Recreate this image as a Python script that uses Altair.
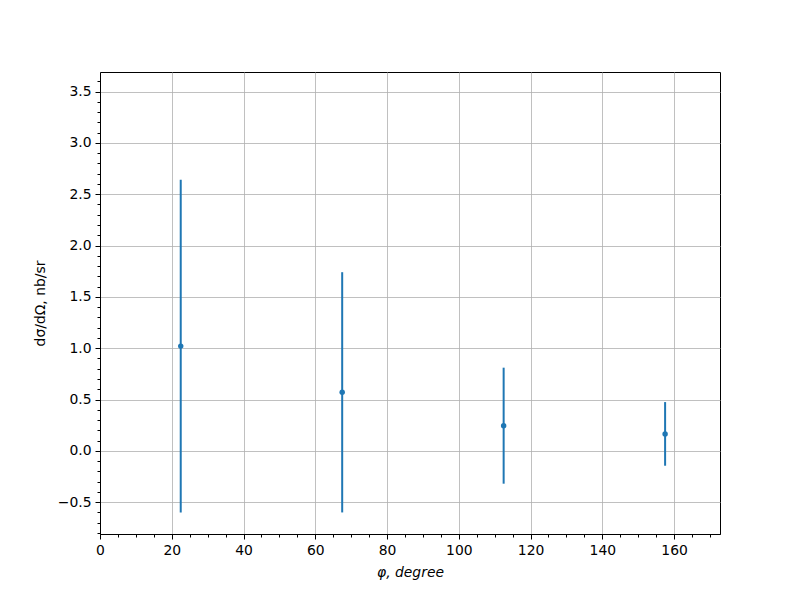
import altair as alt
import pandas as pd

phi = [22.5, 67.5, 112.5, 157.5]
xsec = [1.02, 0.57, 0.245, 0.165]
err = [1.62, 1.17, 0.565, 0.31]

x_ticks = list(range(0, 175, 5))
y_ticks = [round(-0.8 + 0.1 * i, 1) for i in range(45)]

df = pd.DataFrame({"phi": phi, "xsec": xsec, "err": err})
df["lo"] = df["xsec"] - df["err"]
df["hi"] = df["xsec"] + df["err"]

BLUE = "#1f77b4"
FONT = "DejaVu Sans"

x_major = "datum.value % 20 == 0"
y_major = "abs(datum.value*2 - round(datum.value*2)) < 0.000001"

x_axis = alt.Axis(
    values=x_ticks,
    tickCount=500,
    labelExpr=f"{x_major} ? format(datum.value, 'd') : ''",
    labelOverlap=False,
    labelFlush=False,
    tickSize={"condition": {"test": x_major, "value": 5}, "value": 3},
    gridOpacity={"condition": {"test": x_major, "value": 1}, "value": 0},
    grid=True,
    gridColor="#b0b0b0",
    gridWidth=0.8,
    domainColor="black",
    tickColor="black",
    labelColor="black",
    labelFont=FONT,
    labelFontSize=13.9,
    labelPadding=4,
    title="φ, degree",
    titleFont=FONT,
    titleFontSize=13.9,
    titleFontWeight="normal",
    titleFontStyle="italic",
    titleColor="black",
    titlePadding=9,
)

y_axis = alt.Axis(
    values=y_ticks,
    tickCount=500,
    labelExpr=f"{y_major} ? format(datum.value, '.1f') : ''",
    labelOverlap=False,
    labelFlush=False,
    tickSize={"condition": {"test": y_major, "value": 5}, "value": 3},
    gridOpacity={"condition": {"test": y_major, "value": 1}, "value": 0},
    grid=True,
    gridColor="#b0b0b0",
    gridWidth=0.8,
    domainColor="black",
    tickColor="black",
    labelColor="black",
    labelFont=FONT,
    labelFontSize=13.9,
    labelPadding=4,
    title="dσ/dΩ, nb/sr",
    titleFont=FONT,
    titleFontSize=13.9,
    titleFontWeight="normal",
    titleColor="black",
    titlePadding=10,
)

xs = alt.Scale(domain=[0, 172.8], nice=False, zero=False)
ys = alt.Scale(domain=[-0.81, 3.69], nice=False, zero=False)

bars = alt.Chart(df).mark_rule(color=BLUE, strokeWidth=2).encode(
    x=alt.X("phi:Q", scale=xs, axis=x_axis),
    y=alt.Y("lo:Q", scale=ys, axis=y_axis),
    y2="hi:Q",
)

pts = alt.Chart(df).mark_circle(color=BLUE, size=30, opacity=1).encode(
    x=alt.X("phi:Q", scale=xs),
    y=alt.Y("xsec:Q", scale=ys),
)

chart = (
    alt.layer(bars, pts)
    .properties(
        width=620,
        height=462,
        autosize=alt.AutoSizeParams(type="none"),
        padding={"left": 92, "top": 64, "right": 40, "bottom": 50},
        background="white",
    )
    .configure_view(stroke="black", strokeWidth=1)
)

chart.save("out.html", embed_options={"renderer": "svg", "actions": False})
